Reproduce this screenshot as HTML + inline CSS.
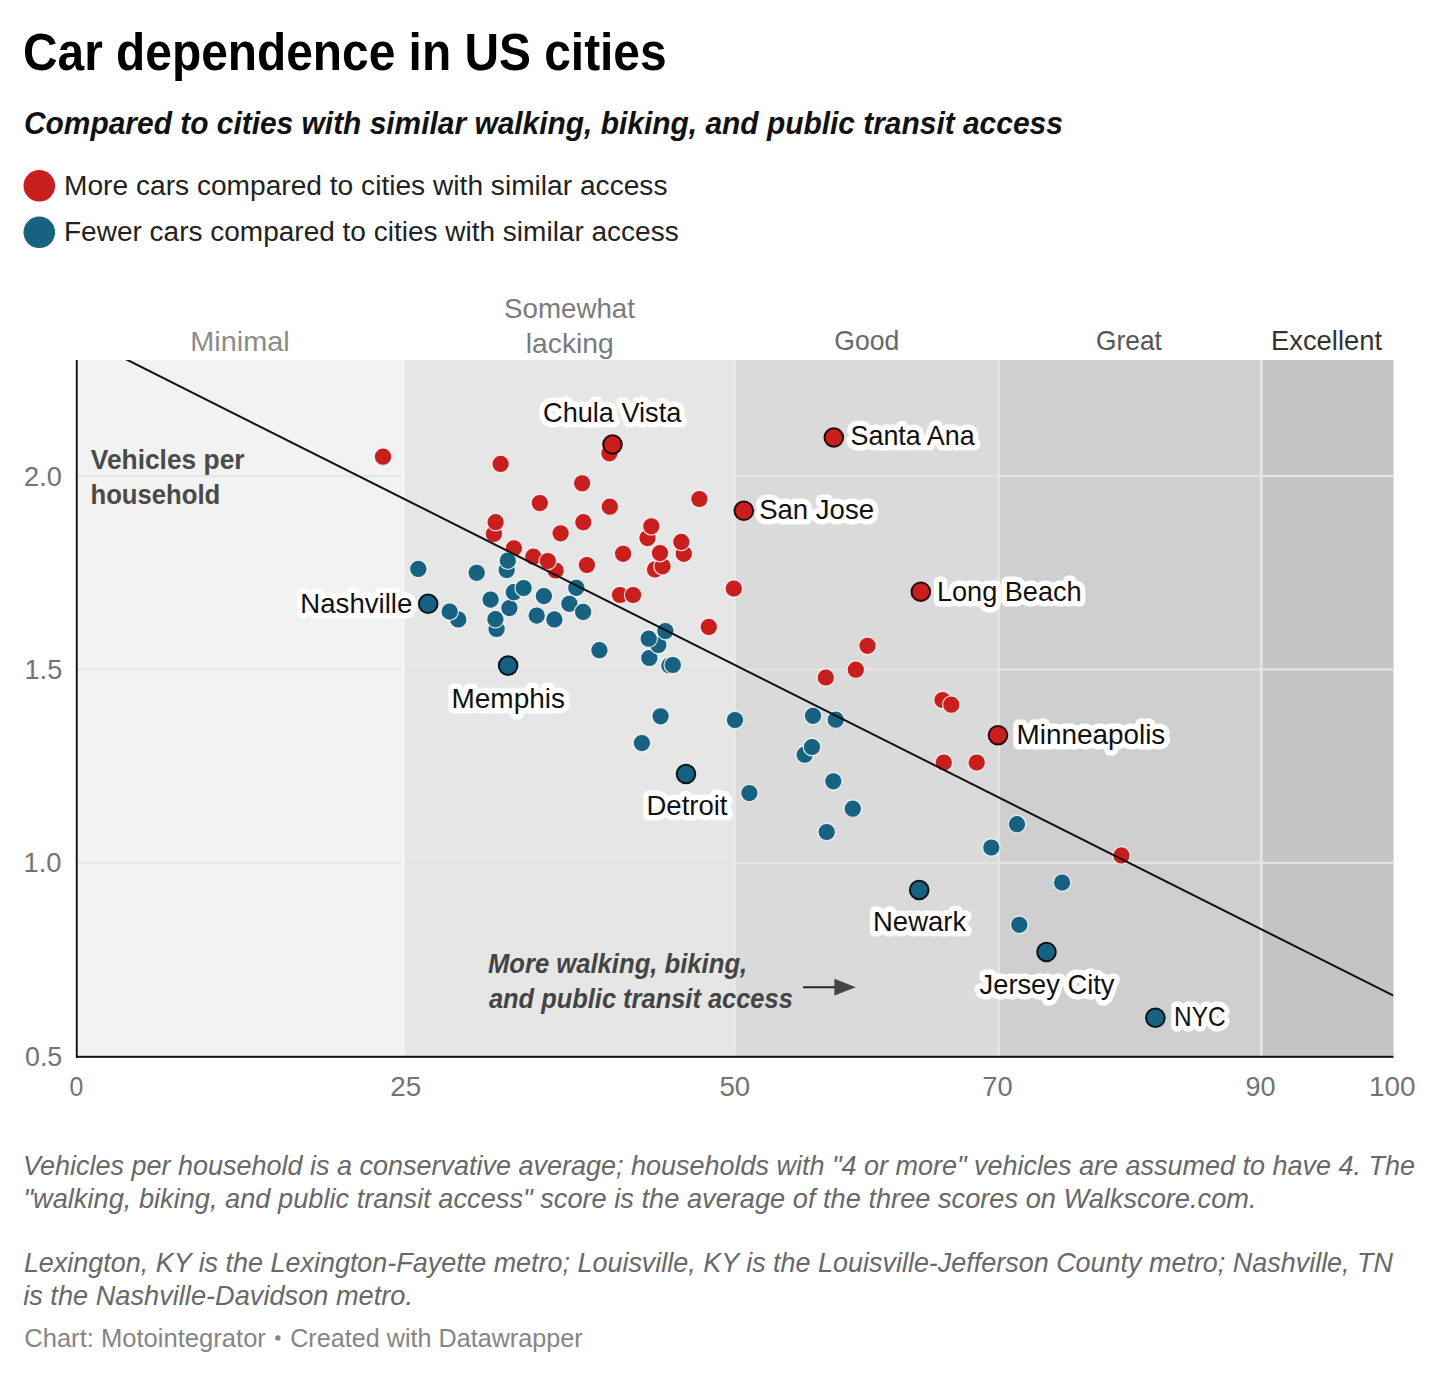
<!DOCTYPE html>
<html><head><meta charset="utf-8"><title>Car dependence in US cities</title>
<style>
html,body{margin:0;padding:0;background:#fff;}
body{width:1440px;height:1380px;overflow:hidden;}
svg{display:block;font-family:"Liberation Sans", sans-serif;}
text{font-family:"Liberation Sans", sans-serif;}
.halo{paint-order:stroke fill;stroke:#ffffff;stroke-width:11px;stroke-linejoin:round;}
</style></head>
<body>
<svg width="1440" height="1380" viewBox="0 0 1440 1380">
<rect width="1440" height="1380" fill="#ffffff"/>
<text x="23.00" y="69.5" font-size="51" fill="#000000" font-weight="bold" textLength="643.60" lengthAdjust="spacingAndGlyphs">Car dependence in US cities</text>
<text x="24.00" y="134.0" font-size="31" fill="#111111" font-weight="bold" font-style="italic" textLength="1038.80" lengthAdjust="spacingAndGlyphs">Compared to cities with similar walking, biking, and public transit access</text>
<text x="64.00" y="195.0" font-size="28.2" fill="#222222" textLength="603.50" lengthAdjust="spacingAndGlyphs">More cars compared to cities with similar access</text>
<text x="64.00" y="241.3" font-size="28.2" fill="#222222" textLength="614.70" lengthAdjust="spacingAndGlyphs">Fewer cars compared to cities with similar access</text>
<circle cx="39.3" cy="185.8" r="15.8" fill="#c91e1e"/>
<circle cx="39.3" cy="232.3" r="15.8" fill="#166280"/>
<text x="190.30" y="350.7" font-size="28" fill="#8b8b8b" textLength="99.40" lengthAdjust="spacingAndGlyphs">Minimal</text>
<text x="504.00" y="317.8" font-size="28" fill="#7b7b7b" textLength="131.00" lengthAdjust="spacingAndGlyphs">Somewhat</text>
<text x="525.80" y="352.5" font-size="28" fill="#7b7b7b" textLength="88.00" lengthAdjust="spacingAndGlyphs">lacking</text>
<text x="834.30" y="350.0" font-size="28" fill="#686868" textLength="65.00" lengthAdjust="spacingAndGlyphs">Good</text>
<text x="1096.10" y="350.0" font-size="28" fill="#555555" textLength="65.70" lengthAdjust="spacingAndGlyphs">Great</text>
<text x="1271.00" y="350.0" font-size="28" fill="#333333" textLength="111.00" lengthAdjust="spacingAndGlyphs">Excellent</text>
<rect x="77.00" y="360.0" width="327.40" height="696.20" fill="#f2f2f2"/>
<rect x="404.40" y="360.0" width="331.60" height="696.20" fill="#e6e6e6"/>
<rect x="736.00" y="360.0" width="263.90" height="696.20" fill="#dadada"/>
<rect x="999.90" y="360.0" width="262.90" height="696.20" fill="#cfcfcf"/>
<rect x="1262.80" y="360.0" width="130.70" height="696.20" fill="#c4c4c4"/>
<rect x="77.0" y="475.03" width="1316.50" height="2" fill="#e5e5e5"/>
<rect x="77.0" y="668.42" width="1316.50" height="2" fill="#e5e5e5"/>
<rect x="77.0" y="861.81" width="1316.50" height="2" fill="#e5e5e5"/>
<rect x="401.8" y="360.0" width="2.60" height="696.20" fill="#f5f5f5"/>
<rect x="733.4" y="360.0" width="2.60" height="696.20" fill="#e8e8e8"/>
<rect x="997.3" y="360.0" width="2.60" height="696.20" fill="#e5e5e5"/>
<rect x="1259.9" y="360.0" width="2.70" height="696.20" fill="#e6e6e6"/>
<text x="24.10" y="485.5" font-size="28.5" fill="#737373" textLength="37.80" lengthAdjust="spacingAndGlyphs">2.0</text>
<text x="24.50" y="679.2" font-size="28.5" fill="#737373" textLength="37.80" lengthAdjust="spacingAndGlyphs">1.5</text>
<text x="23.50" y="872.4" font-size="28.5" fill="#737373" textLength="38.00" lengthAdjust="spacingAndGlyphs">1.0</text>
<text x="25.00" y="1065.7" font-size="28.5" fill="#737373" textLength="37.30" lengthAdjust="spacingAndGlyphs">0.5</text>
<text x="69.50" y="1096.3" font-size="28.5" fill="#737373" textLength="13.80" lengthAdjust="spacingAndGlyphs">0</text>
<text x="390.30" y="1096.3" font-size="28.5" fill="#737373" textLength="31.00" lengthAdjust="spacingAndGlyphs">25</text>
<text x="719.40" y="1096.3" font-size="28.5" fill="#737373" textLength="30.80" lengthAdjust="spacingAndGlyphs">50</text>
<text x="982.30" y="1096.3" font-size="28.5" fill="#737373" textLength="30.30" lengthAdjust="spacingAndGlyphs">70</text>
<text x="1245.50" y="1096.3" font-size="28.5" fill="#737373" textLength="30.00" lengthAdjust="spacingAndGlyphs">90</text>
<text x="1369.00" y="1096.3" font-size="28.5" fill="#737373" textLength="46.60" lengthAdjust="spacingAndGlyphs">100</text>
<text x="90.75" y="469.0" font-size="28" fill="#4a4a4a" font-weight="bold" textLength="153.85" lengthAdjust="spacingAndGlyphs">Vehicles per</text>
<text x="90.50" y="503.75" font-size="28" fill="#4a4a4a" font-weight="bold" textLength="129.75" lengthAdjust="spacingAndGlyphs">household</text>
<g fill="#c91e1e" stroke="#ffffff" stroke-opacity="0.8" stroke-width="1.3">
<circle cx="383" cy="456.7" r="8.75"/>
<circle cx="500.6" cy="463.9" r="8.75"/>
<circle cx="582.1" cy="483.3" r="8.75"/>
<circle cx="539.8" cy="503.1" r="8.75"/>
<circle cx="609.8" cy="506.7" r="8.75"/>
<circle cx="699.4" cy="499" r="8.75"/>
<circle cx="493.9" cy="533.9" r="8.75"/>
<circle cx="495.6" cy="522.2" r="8.75"/>
<circle cx="583.3" cy="522.2" r="8.75"/>
<circle cx="560.6" cy="533.3" r="8.75"/>
<circle cx="609.4" cy="453.3" r="8.75"/>
<circle cx="513.9" cy="548.3" r="8.75"/>
<circle cx="533.3" cy="556.7" r="8.75"/>
<circle cx="555.6" cy="570.5" r="8.75"/>
<circle cx="547.8" cy="561.1" r="8.75"/>
<circle cx="647.5" cy="538.1" r="8.75"/>
<circle cx="651.3" cy="526.3" r="8.75"/>
<circle cx="683.8" cy="553.8" r="8.75"/>
<circle cx="681.3" cy="541.9" r="8.75"/>
<circle cx="623.1" cy="553.8" r="8.75"/>
<circle cx="655" cy="569.4" r="8.75"/>
<circle cx="662.5" cy="566.3" r="8.75"/>
<circle cx="660" cy="553.1" r="8.75"/>
<circle cx="586.9" cy="565" r="8.75"/>
<circle cx="620" cy="595" r="8.75"/>
<circle cx="633.1" cy="595" r="8.75"/>
<circle cx="708.8" cy="626.9" r="8.75"/>
<circle cx="733.8" cy="588.5" r="8.75"/>
<circle cx="867.5" cy="645.8" r="8.75"/>
<circle cx="855.8" cy="669.7" r="8.75"/>
<circle cx="825.8" cy="677.5" r="8.75"/>
<circle cx="942.5" cy="700" r="8.75"/>
<circle cx="951.3" cy="704.7" r="8.75"/>
<circle cx="943.8" cy="762.5" r="8.75"/>
<circle cx="976.7" cy="762.5" r="8.75"/>
<circle cx="1121.4" cy="855.4" r="8.75"/>
</g>
<g fill="#166280" stroke="#ffffff" stroke-opacity="0.8" stroke-width="1.3">
<circle cx="418.3" cy="568.9" r="8.75"/>
<circle cx="476.7" cy="572.8" r="8.75"/>
<circle cx="506.7" cy="570" r="8.75"/>
<circle cx="507.8" cy="560.6" r="8.75"/>
<circle cx="458.3" cy="619.4" r="8.75"/>
<circle cx="449.7" cy="611.6" r="8.75"/>
<circle cx="490.6" cy="599.6" r="8.75"/>
<circle cx="509.4" cy="608.1" r="8.75"/>
<circle cx="513.8" cy="592.2" r="8.75"/>
<circle cx="523.6" cy="588.0" r="8.75"/>
<circle cx="496.6" cy="629.0" r="8.75"/>
<circle cx="495.4" cy="619.2" r="8.75"/>
<circle cx="543.9" cy="596.1" r="8.75"/>
<circle cx="536.7" cy="615.6" r="8.75"/>
<circle cx="554.4" cy="619.4" r="8.75"/>
<circle cx="576.3" cy="587.8" r="8.75"/>
<circle cx="569.4" cy="603.8" r="8.75"/>
<circle cx="583.1" cy="611.9" r="8.75"/>
<circle cx="599.4" cy="650.2" r="8.75"/>
<circle cx="649.3" cy="658.0" r="8.75"/>
<circle cx="658.3" cy="645.0" r="8.75"/>
<circle cx="648.7" cy="638.7" r="8.75"/>
<circle cx="665.4" cy="631.1" r="8.75"/>
<circle cx="669.4" cy="665.6" r="8.75"/>
<circle cx="672.8" cy="665.0" r="8.75"/>
<circle cx="660.6" cy="716.3" r="8.75"/>
<circle cx="641.9" cy="743.1" r="8.75"/>
<circle cx="735" cy="720" r="8.75"/>
<circle cx="749.4" cy="793.1" r="8.75"/>
<circle cx="813" cy="715.8" r="8.75"/>
<circle cx="835.8" cy="719.7" r="8.75"/>
<circle cx="804.7" cy="754.7" r="8.75"/>
<circle cx="812" cy="747" r="8.75"/>
<circle cx="833.3" cy="781.3" r="8.75"/>
<circle cx="852.8" cy="808.7" r="8.75"/>
<circle cx="826.7" cy="832" r="8.75"/>
<circle cx="991.3" cy="847.5" r="8.75"/>
<circle cx="1017" cy="824.2" r="8.75"/>
<circle cx="1062.1" cy="882.6" r="8.75"/>
<circle cx="1019.3" cy="924.8" r="8.75"/>
</g>
<clipPath id="pc"><rect x="77" y="360" width="1316.5" height="697"/></clipPath>
<line x1="125.5" y1="359" x2="1393.5" y2="995.65" stroke="#111111" stroke-width="2" clip-path="url(#pc)"/>
<rect x="75.8" y="360.0" width="1.9" height="697.8" fill="#111111"/>
<rect x="76" y="1055.8" width="1317.5" height="2" fill="#111111"/>
<circle cx="612.5" cy="444.5" r="9.3" fill="#c91e1e" stroke="#2a0808" stroke-width="2"/>
<circle cx="833.8" cy="437.5" r="9.3" fill="#c91e1e" stroke="#2a0808" stroke-width="2"/>
<circle cx="743.8" cy="510.8" r="9.3" fill="#c91e1e" stroke="#2a0808" stroke-width="2"/>
<circle cx="920.8" cy="591.7" r="9.3" fill="#c91e1e" stroke="#2a0808" stroke-width="2"/>
<circle cx="998" cy="735.2" r="9.3" fill="#c91e1e" stroke="#2a0808" stroke-width="2"/>
<circle cx="428.2" cy="603.8" r="9.3" fill="#166280" stroke="#08161c" stroke-width="2"/>
<circle cx="508.1" cy="665.6" r="9.3" fill="#166280" stroke="#08161c" stroke-width="2"/>
<circle cx="686" cy="774" r="9.3" fill="#166280" stroke="#08161c" stroke-width="2"/>
<circle cx="919.2" cy="890" r="9.3" fill="#166280" stroke="#08161c" stroke-width="2"/>
<circle cx="1046.5" cy="952" r="9.3" fill="#166280" stroke="#08161c" stroke-width="2"/>
<circle cx="1155.4" cy="1017.8" r="9.3" fill="#166280" stroke="#08161c" stroke-width="2"/>
<text x="487.90" y="972.6" font-size="27.2" fill="#444444" font-weight="bold" font-style="italic" textLength="259.30" lengthAdjust="spacingAndGlyphs">More walking, biking,</text>
<text x="488.90" y="1007.6" font-size="27.2" fill="#444444" font-weight="bold" font-style="italic" textLength="303.90" lengthAdjust="spacingAndGlyphs">and public transit access</text>
<line x1="803.8" y1="987.2" x2="836" y2="987.2" stroke="#262626" stroke-width="1.9" stroke-linecap="round"/>
<path d="M834.4 978.8 L855.8 987.2 L834.4 995.4 Z" fill="#444444"/>
<text x="543.10" y="422.2" font-size="28" fill="#111111" textLength="138.20" lengthAdjust="spacingAndGlyphs" class="halo">Chula Vista</text>
<text x="850.50" y="444.8" font-size="28" fill="#111111" textLength="124.10" lengthAdjust="spacingAndGlyphs" class="halo">Santa Ana</text>
<text x="759.20" y="519.2" font-size="28" fill="#111111" textLength="114.80" lengthAdjust="spacingAndGlyphs" class="halo">San Jose</text>
<text x="936.90" y="601.1" font-size="28" fill="#111111" textLength="144.80" lengthAdjust="spacingAndGlyphs" class="halo">Long Beach</text>
<text x="300.30" y="612.8" font-size="28" fill="#111111" textLength="112.00" lengthAdjust="spacingAndGlyphs" class="halo">Nashville</text>
<text x="451.50" y="708.0" font-size="28" fill="#111111" textLength="113.50" lengthAdjust="spacingAndGlyphs" class="halo">Memphis</text>
<text x="1016.50" y="744.3" font-size="28" fill="#111111" textLength="148.80" lengthAdjust="spacingAndGlyphs" class="halo">Minneapolis</text>
<text x="646.50" y="815.0" font-size="28" fill="#111111" textLength="81.00" lengthAdjust="spacingAndGlyphs" class="halo">Detroit</text>
<text x="873.00" y="930.8" font-size="28" fill="#111111" textLength="93.20" lengthAdjust="spacingAndGlyphs" class="halo">Newark</text>
<text x="979.60" y="993.5" font-size="28" fill="#111111" textLength="134.80" lengthAdjust="spacingAndGlyphs" class="halo">Jersey City</text>
<text x="1174.10" y="1025.5" font-size="28" fill="#111111" textLength="51.50" lengthAdjust="spacingAndGlyphs" class="halo">NYC</text>
<text x="23.10" y="1175.0" font-size="27.5" fill="#686868" font-style="italic" textLength="1391.90" lengthAdjust="spacingAndGlyphs">Vehicles per household is a conservative average; households with "4 or more" vehicles are assumed to have 4. The</text>
<text x="23.40" y="1207.7" font-size="27.5" fill="#686868" font-style="italic" textLength="1233.10" lengthAdjust="spacingAndGlyphs">"walking, biking, and public transit access" score is the average of the three scores on Walkscore.com.</text>
<text x="23.90" y="1272.4" font-size="27.5" fill="#686868" font-style="italic" textLength="1369.10" lengthAdjust="spacingAndGlyphs">Lexington, KY is the Lexington-Fayette metro; Louisville, KY is the Louisville-Jefferson County metro; Nashville, TN</text>
<text x="23.20" y="1305.0" font-size="27.5" fill="#686868" font-style="italic" textLength="389.80" lengthAdjust="spacingAndGlyphs">is the Nashville-Davidson metro.</text>
<text x="24.20" y="1347.2" font-size="26.2" fill="#858585" textLength="241.70" lengthAdjust="spacingAndGlyphs">Chart: Motointegrator</text>
<text x="290.20" y="1347.2" font-size="26.2" fill="#858585" textLength="292.40" lengthAdjust="spacingAndGlyphs">Created with Datawrapper</text>
<circle cx="277.9" cy="1337.9" r="2.7" fill="#858585"/>
</svg>
</body></html>
